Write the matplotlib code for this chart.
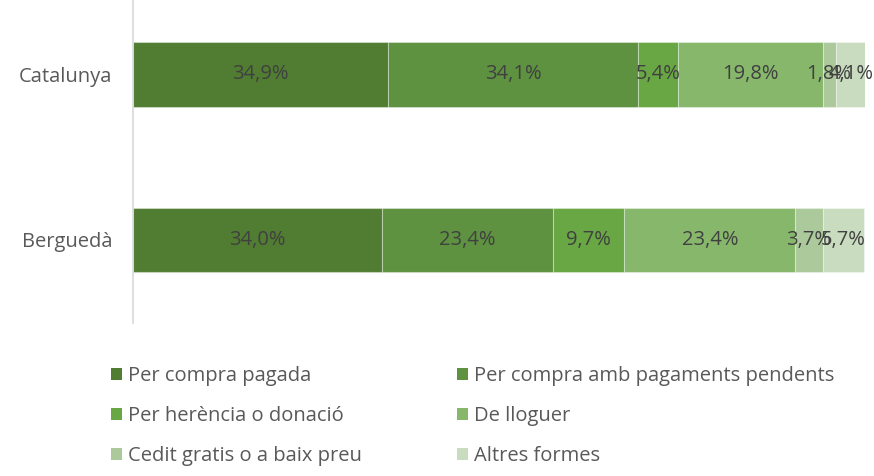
import matplotlib
matplotlib.use("Agg")
import matplotlib.pyplot as plt
from matplotlib.patches import Patch

plt.rcParams['font.family'] = ['Open Sans', 'DejaVu Sans']

categories = ["Catalunya", "Berguedà"]
series_names = ["Per compra pagada", "Per compra amb pagaments pendents",
                "Per herència o donació", "De lloguer",
                "Cedit gratis o a baix preu", "Altres formes"]
catalunya = [34.9, 34.1, 5.4, 19.8, 1.8, 4.1]
bergueda = [34.0, 23.4, 9.7, 23.4, 3.7, 5.7]
colors = ["#507d32", "#5e9140", "#68a743", "#87b76b", "#abc99a", "#c9dcbf"]

values = [catalunya, bergueda]
FS = 14.5

fig = plt.figure(figsize=(8.74, 4.76), dpi=100)
ax = fig.add_axes([133/874, (476-322.75)/476, (865-133)/874, 331/476])

ypos = [1, 0]
for si, name in enumerate(series_names):
    for ci, cat in enumerate(categories):
        left = sum(values[ci][:si]) / 100.0
        w = values[ci][si] / 100.0
        ax.barh(ypos[ci], w, left=left, height=0.39, color=colors[si],
                edgecolor=(1, 1, 1, 0.35), linewidth=0.8)
        ax.text(left + w / 2, ypos[ci], f"{values[ci][si]:.1f}".replace('.', ',') + "%",
                ha='center', va='center', fontsize=FS, color='#404040')

ax.set_xlim(0, 1)
ax.set_ylim(-0.5, 1.5)
ax.set_yticks(ypos)
ax.set_yticklabels(categories, fontsize=FS, color='#595959')
ax.tick_params(axis='y', length=0, pad=15)
ax.set_xticks([])
for s in ['top', 'right', 'bottom']:
    ax.spines[s].set_visible(False)
ax.spines['left'].set_color('#d9d9d9')
ax.spines['left'].set_linewidth(1.2)

# legend: two columns, row-major order
col_x = [111/874, 457/874]
for c in range(2):
    idx = [c, c + 2, c + 4]
    handles = [Patch(facecolor=colors[i], edgecolor='none') for i in idx]
    labels = [series_names[i] for i in idx]
    leg = fig.legend(handles, labels, loc='center left',
                     bbox_to_anchor=(col_x[c], 1 - 416/476),
                     ncol=1, frameon=False, fontsize=FS, labelcolor='#595959',
                     handlelength=0.55, handleheight=0.55, handletextpad=0.3,
                     labelspacing=1.0, borderaxespad=0, borderpad=0)

fig.savefig("out.png", dpi=100)
